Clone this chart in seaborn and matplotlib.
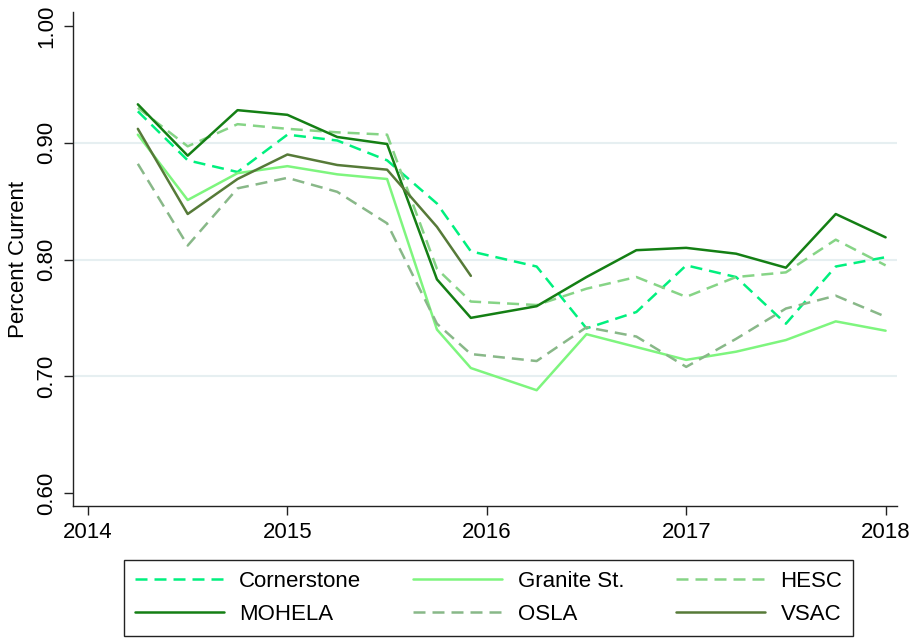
import pandas as pd
import matplotlib.pyplot as plt
import seaborn as sns

# quarterly observation dates (decimal years)
quarters = [2014.25, 2014.5, 2014.75, 2015.0, 2015.25, 2015.5, 2015.75, 2015.92,
            2016.25, 2016.5, 2016.75, 2017.0, 2017.25, 2017.5, 2017.75, 2018.0]

cornerstone = [0.927, 0.885, 0.875, 0.907, 0.902, 0.885, 0.848, 0.807,
               0.794, 0.741, 0.755, 0.795, 0.785, 0.745, 0.794, 0.802]
granite = [0.907, 0.851, 0.874, 0.880, 0.873, 0.869, 0.740, 0.707,
           0.688, 0.736, 0.725, 0.714, 0.721, 0.731, 0.747, 0.739]
hesc = [0.930, 0.897, 0.916, 0.912, 0.909, 0.907, 0.792, 0.764,
        0.761, 0.775, 0.785, 0.768, 0.785, 0.789, 0.817, 0.795]
mohela = [0.933, 0.889, 0.928, 0.924, 0.905, 0.899, 0.783, 0.750,
          0.760, 0.785, 0.808, 0.810, 0.805, 0.793, 0.839, 0.819]
osla = [0.882, 0.812, 0.861, 0.870, 0.858, 0.831, 0.745, 0.719,
        0.713, 0.742, 0.734, 0.708, 0.732, 0.758, 0.769, 0.751]
vsac = [0.912, 0.839, 0.869, 0.890, 0.881, 0.877, 0.828, 0.786,
        None, None, None, None, None, None, None, None]

servicers = ["Cornerstone", "Granite St.", "HESC", "MOHELA", "OSLA", "VSAC"]
series = [cornerstone, granite, hesc, mohela, osla, vsac]

year_ticks = [2014, 2015, 2016, 2017, 2018]
pct_ticks = [0.60, 0.70, 0.80, 0.90, 1.00]

colors = {
    "Cornerstone": "#00f07e",
    "Granite St.": "#7ef57e",
    "HESC": "#86d486",
    "MOHELA": "#147f14",
    "OSLA": "#88b888",
    "VSAC": "#567a38",
}
dash = (4.8, 2.8)
dashes = {
    "Cornerstone": dash,
    "Granite St.": "",
    "HESC": dash,
    "MOHELA": "",
    "OSLA": dash,
    "VSAC": "",
}

rows = []
for name, vals in zip(servicers, series):
    for q, v in zip(quarters, vals):
        rows.append({"Quarter": q, "Servicer": name, "Percent Current": v})
df = pd.DataFrame(rows).dropna()

sns.set_style("ticks")
plt.rcParams["font.family"] = ["Liberation Sans", "DejaVu Sans"]
plt.rcParams["text.color"] = "black"
plt.rcParams["axes.labelcolor"] = "black"
plt.rcParams["xtick.color"] = "black"
plt.rcParams["ytick.color"] = "black"

fig = plt.figure(figsize=(9.13, 6.39), dpi=100)
ax = fig.add_axes([0.080, 0.208, 0.902, 0.773])

# light horizontal grid, only at interior ticks
for y in pct_ticks[1:-1]:
    ax.axhline(y, color="#e6eff1", linewidth=1.5, zorder=0)

sns.lineplot(data=df, x="Quarter", y="Percent Current", hue="Servicer",
             style="Servicer", hue_order=servicers, style_order=servicers,
             palette=colors, dashes=dashes, linewidth=1.8, ax=ax)

ax.set_xlim(2013.925, 2018.055)
ax.set_ylim(0.5887, 1.012)
ax.set_xticks(year_ticks)
ax.set_xticklabels([str(y) for y in year_ticks])
ax.set_yticks(pct_ticks)
ax.set_yticklabels(["%.2f" % y for y in pct_ticks], rotation=90, va="center")
ax.tick_params(axis="both", labelsize=16, length=6.5, width=1.0,
               color="#222222", labelcolor="black", pad=5)
ax.set_xlabel("")
ax.set_ylabel("Percent Current", fontsize=16, labelpad=5, color="black")
sns.despine(ax=ax)
for s in ["left", "bottom"]:
    ax.spines[s].set_color("#222222")
    ax.spines[s].set_linewidth(1.0)

handles, labels = ax.get_legend_handles_labels()
ax.get_legend().remove()
lookup = dict(zip(labels, handles))
order = ["Cornerstone", "MOHELA", "Granite St.", "OSLA", "HESC", "VSAC"]
leg = fig.legend([lookup[k] for k in order], order, ncol=3, loc="center",
                 bbox_to_anchor=(124 / 913, 3 / 639, 729 / 913, 76 / 639),
                 mode="expand", borderaxespad=0, fontsize=16, handlelength=4.0,
                 handletextpad=0.7, labelspacing=0.55, borderpad=0.48,
                 fancybox=False, framealpha=1, labelcolor="black")
leg.get_frame().set_edgecolor("#222222")
leg.get_frame().set_linewidth(1.0)

fig.savefig("out.png", dpi=100)
